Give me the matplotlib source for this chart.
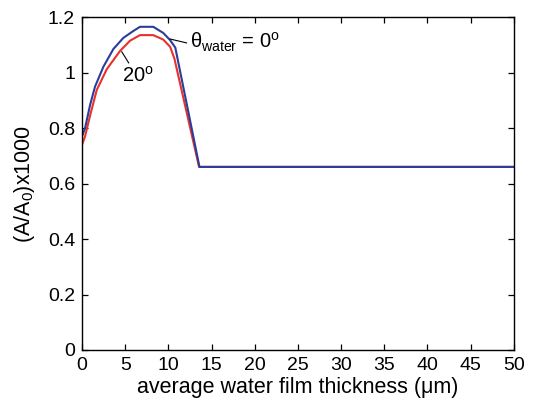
import numpy as np
import matplotlib.pyplot as plt

plt.rcParams['font.family'] = ['Liberation Sans', 'DejaVu Sans']
plt.rcParams['mathtext.fontset'] = 'custom'
plt.rcParams['mathtext.rm'] = 'Liberation Sans'
plt.rcParams['mathtext.it'] = 'Liberation Sans'

# water film thickness (um) and normalised absorbance for two contact angles
thick_0deg = [0, 0.35, 0.93, 1.5, 2.47, 3.63, 4.78, 5.94, 6.71, 8.25, 9.4, 10.2, 10.8, 13.6, 50]
absorb_0deg = [0.77, 0.80, 0.883, 0.949, 1.021, 1.085, 1.125, 1.150, 1.165, 1.165, 1.143,
               1.117, 1.09, 0.66, 0.66]
thick_20deg = [0, 0.35, 0.93, 1.7, 2.86, 4.4, 5.56, 6.71, 8.25, 9.4, 10.2, 10.7, 13.55, 50]
absorb_20deg = [0.74, 0.77, 0.845, 0.937, 1.012, 1.078, 1.115, 1.135, 1.135, 1.119, 1.093,
                1.05, 0.66, 0.66]

fig = plt.figure(figsize=(5.38, 4.12), dpi=100)
ax = fig.add_axes([0.1525, 0.1505, 0.8025, 0.808])

ax.plot(thick_20deg, absorb_20deg, color='#e8312a', lw=1.5)
ax.plot(thick_0deg, absorb_0deg, color='#2a3c9c', lw=1.5)

ax.set_xlim(0, 50)
ax.set_ylim(0, 1.2)
ax.set_xticks(np.arange(0, 51, 5))
ax.set_yticks(np.arange(0, 1.21, 0.2))
ax.set_yticklabels(['0', '0.2', '0.4', '0.6', '0.8', '1', '1.2'])
ax.tick_params(direction='in', top=True, right=True, labelsize=14, length=4, width=0.9,
               pad=5)
for s in ax.spines.values():
    s.set_linewidth(1.0)

ax.set_xlabel('average water film thickness (\u03bcm)', fontsize=15.5, labelpad=2)
ax.set_ylabel('(A/A$_0$)x1000', fontsize=15.5, labelpad=8)

# curve labels with short leader lines
ax.plot([10.2, 12.1], [1.121, 1.107], color='black', lw=0.8)
ax.text(12.5, 1.108, r'$\theta_{\mathregular{water}}$ = 0$^\mathregular{o}$', fontsize=14.5,
        va='center', ha='left')
ax.plot([4.6, 5.4], [1.075, 1.035], color='black', lw=0.8)
ax.text(6.5, 0.99, r'20$^\mathregular{o}$', fontsize=14.5, va='center', ha='center')

fig.savefig('out.png', dpi=100)
